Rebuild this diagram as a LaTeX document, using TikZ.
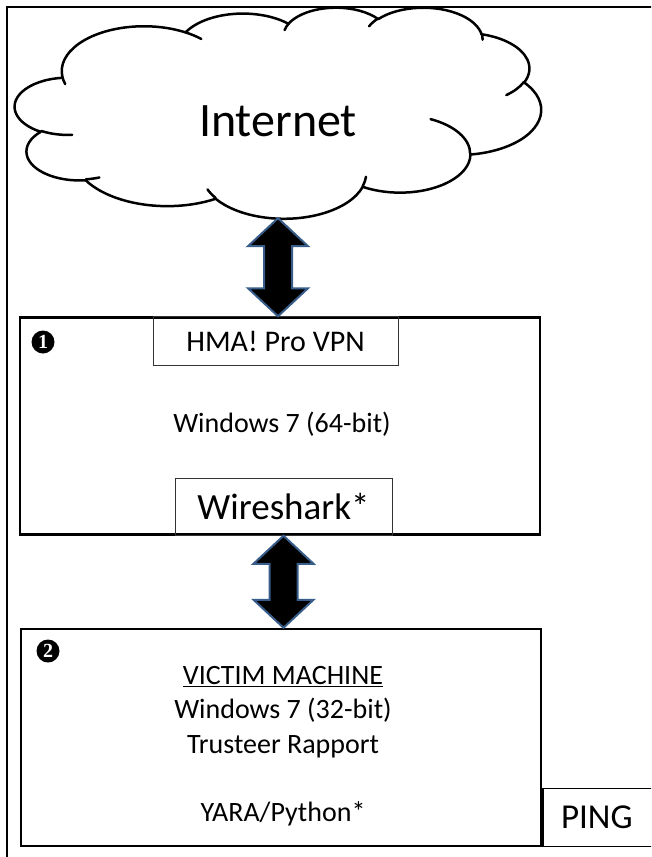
\documentclass[tikz,border=0pt]{standalone}
\usepackage{fontspec}
\setmainfont{Carlito}
\usetikzlibrary{positioning, calc}
\definecolor{linkblue}{RGB}{56,93,138}
\tikzset{
x=1pt, y=-1pt, % one unit is one pixel, y runs downwards
machine/.style={draw, line width=2.5pt, minimum width=520pt, minimum height=217pt}, % the two PCs
appbox/.style={draw=black!80, line width=1pt, inner sep=0pt}, % tools sitting on a machine
badge/.style={circle, fill=black, text=white, inner sep=0pt, minimum size=23pt,
  font=\fontspec{Liberation Serif}\bfseries\fontsize{20}{20}\selectfont}, % numbered markers
label28/.style={font=\fontsize{28}{34.5}\selectfont}, % ordinary text
big/.style={font=\fontsize{37}{44}\selectfont}, % larger text
link/.style={fill=black, draw=linkblue, line width=2pt, line join=miter}, % fat arrows
cloudline/.style={line width=2.5pt, line join=round, line cap=round}, % cloud outline
puff/.style n args={4}{x radius=#1, y radius=#2, % elliptic arc, angles seen from the centre
  start angle={atan2(#1*sin(#3),#2*cos(#3))},
  delta angle={mod(atan2(#1*sin(#3+#4),#2*cos(#3+#4))-atan2(#1*sin(#3),#2*cos(#3))+720,360)}},
}
% fat two-headed arrow from #1 down to #2
\newcommand{\duplex}[2]{%
  \draw[link] (#1) -- ($(#1)+(30,28)$) -- ($(#1)+(14,28)$) -- ($(#2)+(14,-28)$)
    -- ($(#2)+(30,-28)$) -- (#2) -- ($(#2)+(-30,-28)$) -- ($(#2)+(-14,-28)$)
    -- ($(#1)+(-14,28)$) -- ($(#1)+(-30,28)$) -- cycle;}

\begin{document}
\begin{tikzpicture}
\useasboundingbox (0,0) rectangle (651,857);
\clip (0,0) rectangle (651,857);
\draw[line width=2.5pt] (7,7) rectangle (700,900);

% internet cloud
\node[minimum width=526pt, minimum height=211pt, text height=48pt,
  font=\fontsize{48}{56}\selectfont] (net) at (278,112.5) {Internet};
\begin{scope}[shift={(15,7)}, x=0.12176pt, y=-0.04884pt]
  \draw[cloudline] (390,1437)
    arc[puff={675.3}{919.0}{-190.4875}{123.7805}]
    arc[puff={533.3}{726.7}{-144.1024}{89.9452}]
    arc[puff={436.5}{594.5}{-145.8079}{99.7230}]
    arc[puff={485.7}{659.5}{-130.9861}{117.2417}]
    arc[puff={533.3}{727.3}{-78.7089}{109.0269}]
    arc[puff={677.5}{922.0}{-46.2673}{130.2690}]
    arc[puff={578.5}{786.7}{0.6250}{114.0333}]
    arc[puff={675.2}{921.5}{22.4516}{115.1726}]
    arc[puff={772.0}{1054.3}{66.2426}{75.7110}]
    arc[puff={436.0}{591.8}{-274.9421}{146.7356}]
    arc[puff={434.5}{594.5}{-246.8285}{152.5226}] -- cycle;
  \foreach \px/\py/\rx/\ry/\st/\sw in {
    469.3/2617.7/434.5/594.5/86.742/26.4295,
    692.8/3489.9/436.0/591.8/73.6105/11.4475,
    1647.8/3909.0/675.2/921.5/137.6242/14.0811,
    2882.7/3475.1/675.2/921.5/6.4533/15.9984,
    3412.9/2295.4/578.5/786.7/-70.2924/70.9174,
    4179.8/1535.4/533.3/727.3/30.3180/27.7515,
    3832.4/542.6/485.7/659.5/-13.7443/14.8589,
    2907.8/395.2/485.7/659.5/-149.1815/18.1954,
    2214.1/472.0/436.5/594.5/-163.4943/17.6864,
    1400.0/519.2/675.3/919.0/-66.7070/12.3194,
    412.7/1578.9/675.3/919.0/157.6544/11.8582}
    \draw[cloudline] (\px,\py) arc[puff={\rx}{\ry}{\st}{\sw}];
\end{scope}

% host machine
\node[machine] (host) at (280,426) {};
\node[badge] (one) at (43,342) {1};
\node[appbox, minimum width=245pt, minimum height=49pt, font=\fontsize{30}{36}\selectfont,
  below=0pt of host.north, xshift=-4.5pt] (vpn) {HMA! Pro VPN};
\node[label28] (os1) at (282,424) {Windows 7 (64-bit)};
\node[appbox, big, minimum width=217pt, minimum height=57pt,
  above=0pt of host.south, xshift=3.5pt] (wire) {Wireshark*};

% victim machine
\node[machine, below=92pt of host, xshift=1pt] (victim) {};
\node[badge] (two) at (48,651) {2};
\node[label28, align=center] (vtext) at (283,712)
  {\underline{VICTIM MACHINE}\\Windows 7 (32-bit)\\Trusteer Rapport};
\node[label28] (yara) at (283,814) {YARA/Python*};
\node[draw, line width=1.5pt, font=\fontsize{35}{42}\selectfont, anchor=south west,
  minimum height=58pt, text width=110pt, inner xsep=18pt, align=left] (ping)
  at (victim.south east) {PING};

% links
\coordinate (up1) at (net.south);
\coordinate (dn1) at (net.south |- host.north);
\duplex{up1}{dn1}
\coordinate (up2) at (wire.south);
\coordinate (dn2) at (wire.south |- victim.north);
\duplex{up2}{dn2}
\end{tikzpicture}
\end{document}
